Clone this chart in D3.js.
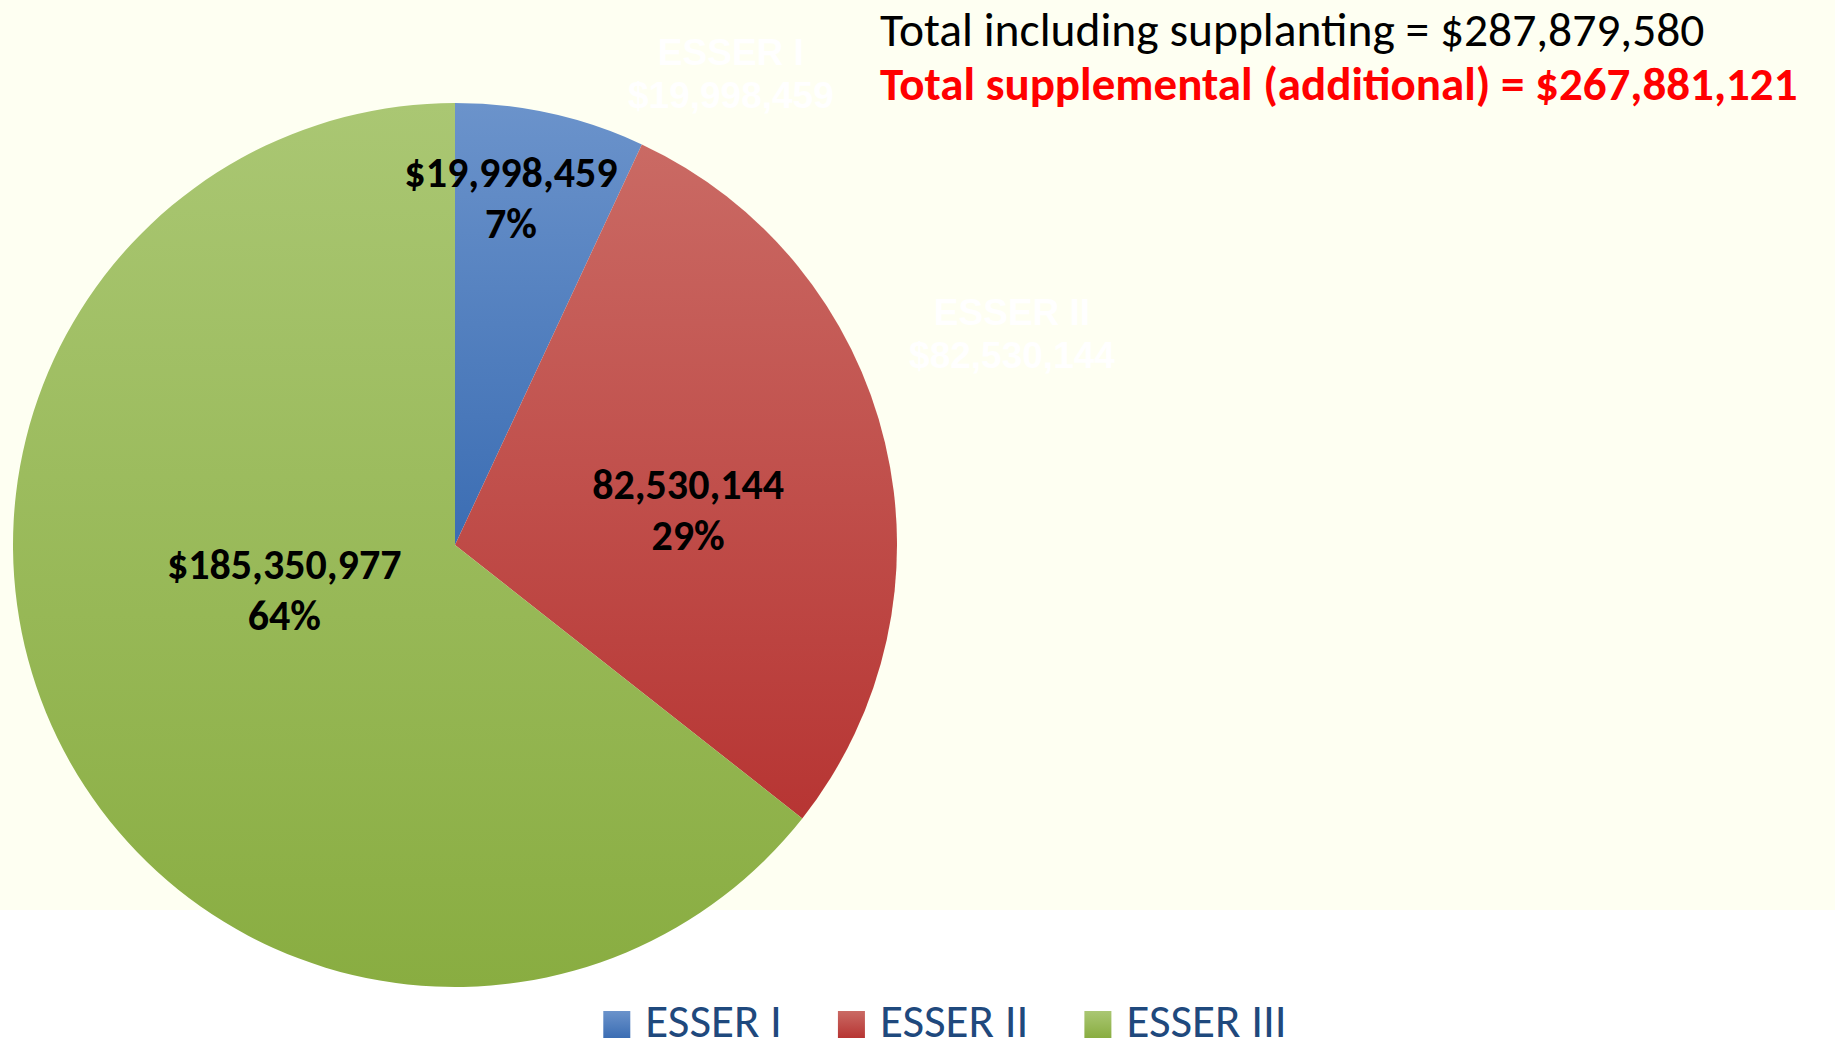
<!DOCTYPE html>
<html>
<head>
<meta charset="utf-8">
<script src="https://cdn.jsdelivr.net/npm/d3@7"></script>
<style>
  html, body { margin: 0; padding: 0; background: #fff; }
  svg { display: block; }
  .calib { font-family: Carlito, Calibri, Lato, sans-serif; }
</style>
</head>
<body>
<div id="chart"></div>
<script>
// data
const categories  = ["ESSER I", "ESSER II", "ESSER III"];
const values      = [19998459, 82530144, 185350977];
const valueLabels = ["$19,998,459", "82,530,144", "$185,350,977"];
const titleLines  = ["Total including supplanting = $287,879,580",
                     "Total supplemental (additional) = $267,881,121"];
// faint outside labels (only the first two are visible in the source)
const ghostLabels = [["ESSER I", "$19,998,459"], ["ESSER II", "$82,530,144"]];

const colors = [
  ["#6b93cb", "#3b6db3"],
  ["#ca6a64", "#b73533"],
  ["#aac773", "#89ad41"]
];

const width = 1835, height = 1041;
const cx = 455, cy = 545, R = 442;

const svg = d3.select("#chart").append("svg")
  .attr("width", width).attr("height", height);

// ivory plot background
svg.append("rect").attr("x", 0).attr("y", 0)
  .attr("width", width).attr("height", 910)
  .attr("fill", "#fefff2");

const defs = svg.append("defs");
colors.forEach((c, i) => {
  const lg = defs.append("linearGradient")
    .attr("id", "grad" + i)
    .attr("x1", 0).attr("y1", 0).attr("x2", 0).attr("y2", 1);
  lg.append("stop").attr("offset", "0%").attr("stop-color", c[0]);
  lg.append("stop").attr("offset", "100%").attr("stop-color", c[1]);
});

const total = d3.sum(values);
const fmtPct = d3.format(".0%");

const pie = d3.pie().sort(null).value(d => d)(values);
const arc = d3.arc().innerRadius(0).outerRadius(R);

const g = svg.append("g").attr("transform", `translate(${cx},${cy})`);

g.selectAll("path.slice")
  .data(pie)
  .join("path")
  .attr("class", "slice")
  .attr("d", arc)
  .attr("fill", (d, i) => `url(#grad${i})`);

// label placement: [angle in degrees from 12 o'clock, radius fraction]
const inPolar    = [[9.2, 0.792], [81.7, 0.533], [255, 0.40]];
const ghostPolar = [[30.3, 1.237], [69.2, 1.348]];
const polar = (deg, f) => {
  const a = deg * Math.PI / 180;
  return [Math.sin(a) * R * f, -Math.cos(a) * R * f];
};

const lab = g.selectAll("g.lab")
  .data(pie)
  .join("g")
  .attr("class", "lab")
  .attr("transform", (d, i) => `translate(${polar(...inPolar[i])})`);

lab.append("text")
  .attr("class", "calib")
  .attr("text-anchor", "middle")
  .attr("y", -12)
  .style("font-size", "42px").style("font-weight", 700)
  .text((d, i) => valueLabels[i]);
lab.append("text")
  .attr("class", "calib")
  .attr("text-anchor", "middle")
  .attr("y", 39)
  .style("font-size", "42px").style("font-weight", 700)
  .text(d => fmtPct(d.value / total));

const ghost = g.selectAll("g.ghost")
  .data(ghostLabels)
  .join("g")
  .attr("class", "ghost")
  .attr("transform", (d, i) => `translate(${polar(...ghostPolar[i])})`);
ghost.selectAll("text")
  .data(d => d)
  .join("text")
  .attr("text-anchor", "middle")
  .attr("y", (d, j) => j ? 35 : -8)
  .attr("fill", "#ffffff")
  .style("font-family", "'Liberation Sans', Arial, sans-serif")
  .style("font-weight", 700)
  .style("font-size", "37px")
  .text(d => d);

// titles
svg.append("text")
  .attr("class", "calib")
  .attr("x", 880).attr("y", 46)
  .style("font-size", "47.5px")
  .attr("fill", "#000")
  .text(titleLines[0]);
svg.append("text")
  .attr("class", "calib")
  .attr("x", 880).attr("y", 100)
  .style("font-size", "47px").style("font-weight", 700)
  .attr("fill", "#ff0000")
  .text(titleLines[1]);

// legend
const legend = svg.append("g");
const items = legend.selectAll("g.item")
  .data(categories)
  .join("g")
  .attr("class", "item");
items.append("rect")
  .attr("width", 27).attr("height", 27)
  .attr("y", 1011)
  .attr("fill", (d, i) => `url(#grad${i})`);
items.append("text")
  .attr("class", "calib")
  .attr("x", 42).attr("y", 1037)
  .attr("fill", "#1f497d")
  .style("font-size", "47px")
  .text(d => d);

let xPos = 0;
const offs = [];
items.each(function(){
  const w = 42 + this.querySelector("text").getComputedTextLength();
  offs.push(xPos);
  xPos += w + 56;
});
const legW = xPos - 56;
const x0 = 945 - legW / 2;
items.attr("transform", (d, i) => `translate(${x0 + offs[i]},0)`);
</script>
</body>
</html>
